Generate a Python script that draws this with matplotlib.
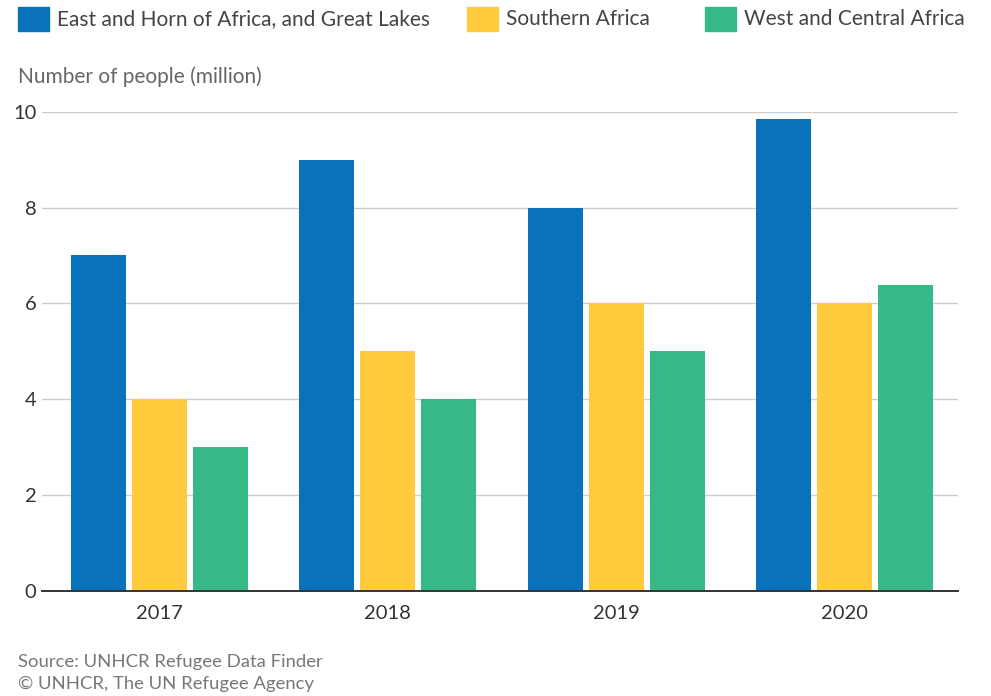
import numpy as np
import matplotlib.pyplot as plt
from matplotlib.patches import Rectangle

plt.rcParams['font.family'] = ['Lato', 'DejaVu Sans']

years = ['2017', '2018', '2019', '2020']
regions = ['East and Horn of Africa, and Great Lakes', 'Southern Africa', 'West and Central Africa']
east = [7, 9, 8, 9.85]
southern = [4, 5, 6, 6]
west = [3, 4, 5, 6.38]
colors = ['#0a72ba', '#ffca3b', '#37b987']

fig = plt.figure(figsize=(9.91, 6.96), dpi=100)
ax = fig.add_axes([42 / 991, 105 / 696, 916 / 991, (591 - 111.7) / 696])

x = np.arange(len(years))
w = 0.241
step = 0.267
for i, vals in enumerate([east, southern, west]):
    ax.bar(x + (i - 1) * step, vals, width=w, color=colors[i], zorder=3)

ax.set_xlim(-0.515, 3.498)
ax.set_ylim(0, 10)
ax.set_yticks([0, 2, 4, 6, 8, 10])
ax.set_xticks(x)
ax.set_xticklabels(years)
ax.grid(axis='y', color='#cccccc', linewidth=1, zorder=0)
for s in ['top', 'right', 'left']:
    ax.spines[s].set_visible(False)
ax.spines['bottom'].set_color('#333333')
ax.spines['bottom'].set_linewidth(1.4)
ax.spines['bottom'].set_zorder(4)
ax.tick_params(axis='y', length=0, pad=4, labelsize=14.5, labelcolor='#333333')
ax.tick_params(axis='x', length=0, pad=10, labelsize=14.5, labelcolor='#333333')
for lab in ax.get_yticklabels():
    lab.set_horizontalalignment('right')

# legend
leg_x = [18, 467, 705]
for i, name in enumerate(regions):
    fig.patches.append(Rectangle((leg_x[i] / 991, 1 - 31 / 696), 31 / 991, 24 / 696,
                                 transform=fig.transFigure, color=colors[i]))
    fig.text((leg_x[i] + 39) / 991, 1 - 19 / 696, name, fontsize=15, color='#444444',
             va='center', ha='left')

fig.text(18 / 991, 1 - 77 / 696, 'Number of people (million)', fontsize=15, color='#666666',
         va='center', ha='left')
fig.text(18 / 991, 1 - 662 / 696, 'Source: UNHCR Refugee Data Finder', fontsize=13.3,
         color='#777777', va='center', ha='left')
fig.text(18 / 991, 1 - 684 / 696, '\u00a9 UNHCR, The UN Refugee Agency', fontsize=13.3,
         color='#777777', va='center', ha='left')

fig.savefig('out.png', dpi=100)
